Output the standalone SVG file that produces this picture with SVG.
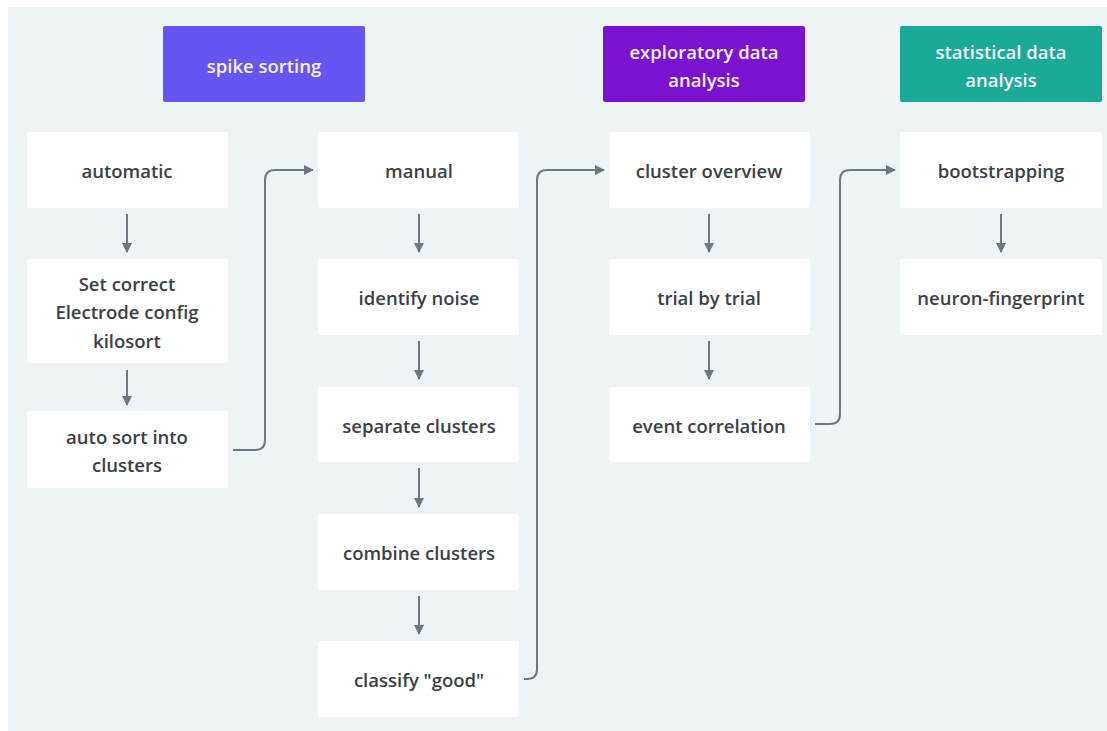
<svg xmlns="http://www.w3.org/2000/svg" width="1107" height="731" viewBox="0 0 1107 731">
<defs>
<style>
.node{fill:#ffffff;}
.t{font-family:"Open Sans","Noto Sans",sans-serif;font-size:18.5px;font-weight:600;fill:#3b4048;text-anchor:middle;dominant-baseline:central;}
.h{font-family:"Open Sans","Noto Sans",sans-serif;font-size:18.5px;font-weight:600;fill:#f4f2ff;text-anchor:middle;dominant-baseline:central;}
.c{fill:none;stroke:#6e7681;stroke-width:2;}
</style>
<marker id="ah" viewBox="0 0 10 10" refX="9" refY="5" markerWidth="5" markerHeight="5" orient="auto" markerUnits="strokeWidth">
<path d="M0,0 L10,5 L0,10 z" fill="#6e7681"/>
</marker>
</defs>
<rect x="0" y="0" width="1107" height="731" fill="#ffffff"/>
<rect x="8" y="7" width="1099" height="724" fill="#eef3f6"/>

<g id="h-spike"><rect x="163" y="26" width="202" height="76" rx="2" fill="#6655f2"/><text class="h" x="264" y="65">spike sorting</text></g>
<g id="h-eda"><rect x="603" y="26" width="202" height="76" rx="2" fill="#7b12d2"/><text class="h" x="704" y="51">exploratory data</text><text class="h" x="704" y="79">analysis</text></g>
<g id="h-sda"><rect x="900" y="26" width="202" height="76" rx="2" fill="#1aab98"/><text class="h" x="1001" y="51">statistical data</text><text class="h" x="1001" y="79">analysis</text></g>

<g id="n-automatic"><rect class="node" x="27" y="132" width="201" height="76" rx="3"/><text class="t" x="127" y="170">automatic</text></g>
<g id="n-setcorrect"><rect class="node" x="27" y="259" width="201" height="104" rx="3"/><text class="t" x="127" y="283">Set correct</text><text class="t" x="127" y="311">Electrode config</text><text class="t" x="127" y="340">kilosort</text></g>
<g id="n-autosort"><rect class="node" x="27" y="411" width="201" height="77" rx="3"/><text class="t" x="127" y="436">auto sort into</text><text class="t" x="127" y="464">clusters</text></g>

<g id="n-manual"><rect class="node" x="318" y="132" width="201" height="76" rx="3"/><text class="t" x="419" y="170">manual</text></g>
<g id="n-noise"><rect class="node" x="318" y="259" width="201" height="76" rx="3"/><text class="t" x="419" y="297">identify noise</text></g>
<g id="n-separate"><rect class="node" x="318" y="387" width="201" height="75" rx="3"/><text class="t" x="419" y="425">separate clusters</text></g>
<g id="n-combine"><rect class="node" x="318" y="514" width="201" height="76" rx="3"/><text class="t" x="419" y="552">combine clusters</text></g>
<g id="n-classify"><rect class="node" x="318" y="641" width="201" height="76" rx="3"/><text class="t" x="419" y="679">classify "good"</text></g>

<g id="n-overview"><rect class="node" x="609" y="132" width="201" height="76" rx="3"/><text class="t" x="709" y="170">cluster overview</text></g>
<g id="n-trial"><rect class="node" x="609" y="259" width="201" height="76" rx="3"/><text class="t" x="709" y="297">trial by trial</text></g>
<g id="n-event"><rect class="node" x="609" y="387" width="201" height="75" rx="3"/><text class="t" x="709" y="425">event correlation</text></g>

<g id="n-boot"><rect class="node" x="900" y="132" width="202" height="76" rx="3"/><text class="t" x="1001" y="170">bootstrapping</text></g>
<g id="n-finger"><rect class="node" x="900" y="259" width="202" height="76" rx="3"/><text class="t" x="1001" y="297">neuron-fingerprint</text></g>

<g id="connectors">
<path class="c" marker-end="url(#ah)" d="M127,214 V252"/>
<path class="c" marker-end="url(#ah)" d="M127,370 V405"/>
<path class="c" marker-end="url(#ah)" d="M419,214 V252"/>
<path class="c" marker-end="url(#ah)" d="M419,341 V379"/>
<path class="c" marker-end="url(#ah)" d="M419,468 V507"/>
<path class="c" marker-end="url(#ah)" d="M419,596 V634"/>
<path class="c" marker-end="url(#ah)" d="M709,214 V252"/>
<path class="c" marker-end="url(#ah)" d="M709,341 V379"/>
<path class="c" marker-end="url(#ah)" d="M1001,214 V252"/>
<path class="c" marker-end="url(#ah)" d="M233,450 H255 Q265,450 265,440 V180 Q265,170 275,170 H313"/>
<path class="c" marker-end="url(#ah)" d="M524,679 H527 Q537,679 537,669 V180 Q537,170 547,170 H604"/>
<path class="c" marker-end="url(#ah)" d="M815,424 H830 Q840,424 840,414 V180 Q840,170 850,170 H895"/>
</g>
</svg>
